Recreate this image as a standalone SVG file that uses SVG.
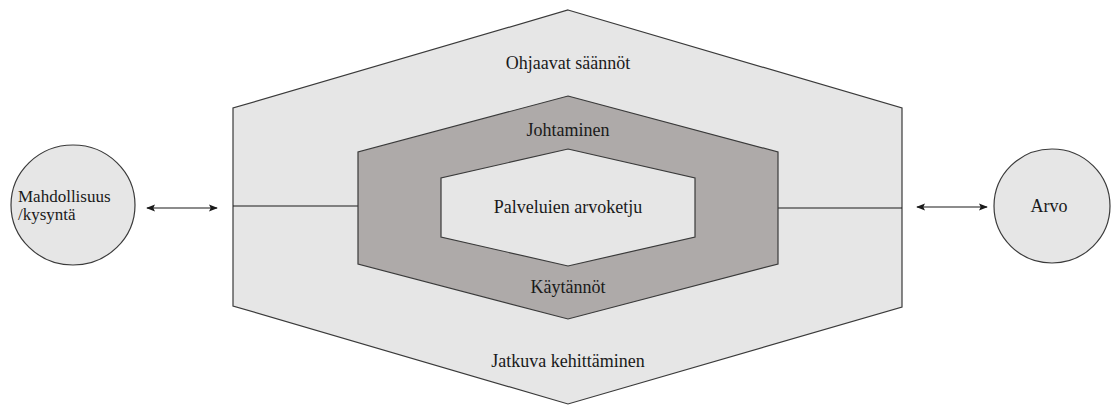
<svg xmlns="http://www.w3.org/2000/svg" width="1113" height="405" viewBox="0 0 1113 405">
<style>
.t{font-family:"Liberation Serif","Times New Roman",serif;font-size:18px;fill:#1a1a1a}
.s{font-size:17px}
.c{text-anchor:middle}
.shape{stroke:#3a3a3a;stroke-width:1.2}
.light{fill:#e6e6e6}
.dark{fill:#aeaaa9}
.ln{stroke:#1a1a1a;stroke-width:1.2;fill:none}
</style>
<defs>
<marker id="ah" viewBox="0 0 10 10" refX="9" refY="5" markerWidth="9" markerHeight="9" orient="auto-start-reverse" markerUnits="userSpaceOnUse">
<path d="M0,1 L10,5 L0,9 L2,5 Z" fill="#1a1a1a"/>
</marker>
</defs>
<g id="outer">
<polygon class="shape light" points="568,10 902,108 902,307 568,404 233,306 233,108"/>
<text class="t c" x="568" y="69">Ohjaavat säännöt</text>
<text class="t c" x="568" y="367">Jatkuva kehittäminen</text>
</g>
<g id="connectors">
<line class="ln" x1="233" y1="206" x2="358" y2="206"/>
<line class="ln" x1="778" y1="208" x2="902" y2="208"/>
<line class="ln" x1="147" y1="208" x2="217" y2="208" marker-start="url(#ah)" marker-end="url(#ah)"/>
<line class="ln" x1="917" y1="207" x2="987" y2="207" marker-start="url(#ah)" marker-end="url(#ah)"/>
</g>
<g id="middle">
<polygon class="shape dark" points="568,96 778,152 778,264 568,319 358,264 358,152"/>
<text class="t c" x="568" y="136">Johtaminen</text>
<text class="t c" x="568" y="293">Käytännöt</text>
</g>
<g id="inner">
<polygon class="shape light" points="568,149 695,178 695,237 568,266 441,237 441,178"/>
<text class="t c" x="568" y="213">Palveluien arvoketju</text>
</g>
<g id="mahdollisuus">
<ellipse class="shape light" cx="73" cy="205" rx="62" ry="60"/>
<text class="t s" x="18" y="202">Mahdollisuus</text>
<text class="t s" x="18" y="220">/kysyntä</text>
</g>
<g id="arvo">
<ellipse class="shape light" cx="1052" cy="206" rx="58" ry="57"/>
<text class="t c" x="1049" y="212">Arvo</text>
</g>
</svg>
